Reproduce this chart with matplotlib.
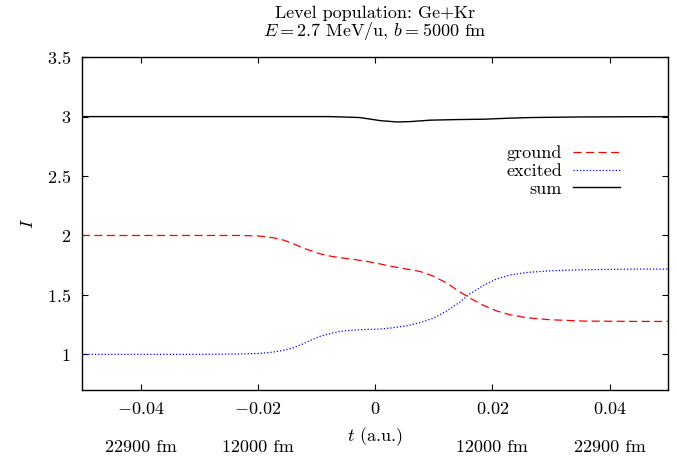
import matplotlib
matplotlib.use('Agg')
import matplotlib.pyplot as plt
import matplotlib.transforms as mtransforms

plt.rcParams['font.family'] = 'serif'
plt.rcParams['font.serif'] = ['cmr10', 'DejaVu Serif']
plt.rcParams['mathtext.fontset'] = 'cm'
plt.rcParams['axes.unicode_minus'] = False
plt.rcParams['font.size'] = 13

# time (a.u.) and level populations
t_ground = [-0.05, -0.03, -0.023, -0.0196, -0.0174, -0.0156, -0.0139, -0.0122,
            -0.0108, -0.0094, -0.0077, -0.006, -0.0037, -0.0014, 0.0009, 0.0031,
            0.0054, 0.0077, 0.01, 0.0122, 0.0145, 0.0162, 0.0185, 0.0208,
            0.023, 0.0259, 0.0299, 0.0356, 0.0441, 0.05]
ground = [2.0, 2.0, 2.0, 1.995, 1.981, 1.961, 1.930, 1.893,
          1.869, 1.846, 1.827, 1.813, 1.799, 1.782, 1.760, 1.737,
          1.717, 1.697, 1.657, 1.60, 1.524, 1.473, 1.412, 1.364,
          1.333, 1.308, 1.291, 1.280, 1.277, 1.277]

t_excited = [-0.05, -0.03, -0.023, -0.0196, -0.0174, -0.0156, -0.0139, -0.0122,
             -0.0108, -0.0094, -0.0077, -0.006, -0.0037, -0.0014, 0.0009, 0.0031,
             0.0054, 0.0077, 0.01, 0.0122, 0.0145, 0.0162, 0.0185, 0.0208,
             0.023, 0.0259, 0.0299, 0.0356, 0.0441, 0.05]
excited = [1.0, 1.0, 1.003, 1.008, 1.019, 1.034, 1.056, 1.09,
           1.123, 1.151, 1.174, 1.193, 1.204, 1.21, 1.213, 1.224,
           1.24, 1.267, 1.305, 1.365, 1.44, 1.51, 1.58, 1.636,
           1.667, 1.689, 1.703, 1.712, 1.717, 1.717]

t_sum = [-0.05, -0.02, -0.0077, -0.0026, 0.0009, 0.0037, 0.006, 0.0094,
         0.0139, 0.0185, 0.023, 0.0265, 0.035, 0.05]
total = [3.0, 3.0, 3.0, 2.992, 2.966, 2.955, 2.958, 2.97,
         2.975, 2.978, 2.987, 2.992, 2.997, 3.0]

xticks = [-0.04, -0.02, 0, 0.02, 0.04]
xtick_labels = ['$-0.04$', '$-0.02$', '$0$', '$0.02$', '$0.04$']
yticks = [1, 1.5, 2, 2.5, 3, 3.5]
ytick_labels = ['$1$', '$1.5$', '$2$', '$2.5$', '$3$', '$3.5$']

dist_pos = [-0.04, -0.02, 0.02, 0.04]
dist_labels = ['22900 fm', '12000 fm', '12000 fm', '22900 fm']

fig = plt.figure(figsize=(6.77, 4.61), dpi=100)
ax = fig.add_axes([0.121, 0.154, 0.866, 0.722])

ax.plot(t_ground, ground, color='#ff0000', lw=0.9, ls=(0, (6.5, 3.5)), label='ground')
ax.plot(t_excited, excited, color='#0000ff', lw=0.9, ls=(0, (1, 1.6)), label='excited')
ax.plot(t_sum, total, color='black', lw=1.0, label='sum')

ax.set_xlim(-0.05, 0.05)
ax.set_ylim(0.7, 3.5)
ax.set_xticks(xticks)
ax.set_xticklabels(xtick_labels)
ax.set_yticks(yticks)
ax.set_yticklabels(ytick_labels)
ax.tick_params(direction='in', length=4, width=0.8, top=True, right=True, pad=8)
for s in ax.spines.values():
    s.set_linewidth(1.0)

ax.set_xlabel('$t$ (a.u.)', labelpad=6)
ax.set_ylabel('$I$', labelpad=8)
ax.set_title('Level population: Ge+Kr\n$E = 2.7$ MeV/u, $b = 5000$ fm',
             fontsize=13, linespacing=0.95, pad=15)

trans = mtransforms.blended_transform_factory(ax.transData, ax.transAxes)
for x, lab in zip(dist_pos, dist_labels):
    ax.text(x, -0.171, lab, transform=trans, ha='center', va='center')

ax.legend(loc='upper right', bbox_to_anchor=(0.917, 0.735), frameon=False,
          markerfirst=False, handlelength=2.6, handletextpad=0.6,
          labelspacing=0.12, borderpad=0, borderaxespad=0, fontsize=13)

fig.savefig('out.png', dpi=100)
